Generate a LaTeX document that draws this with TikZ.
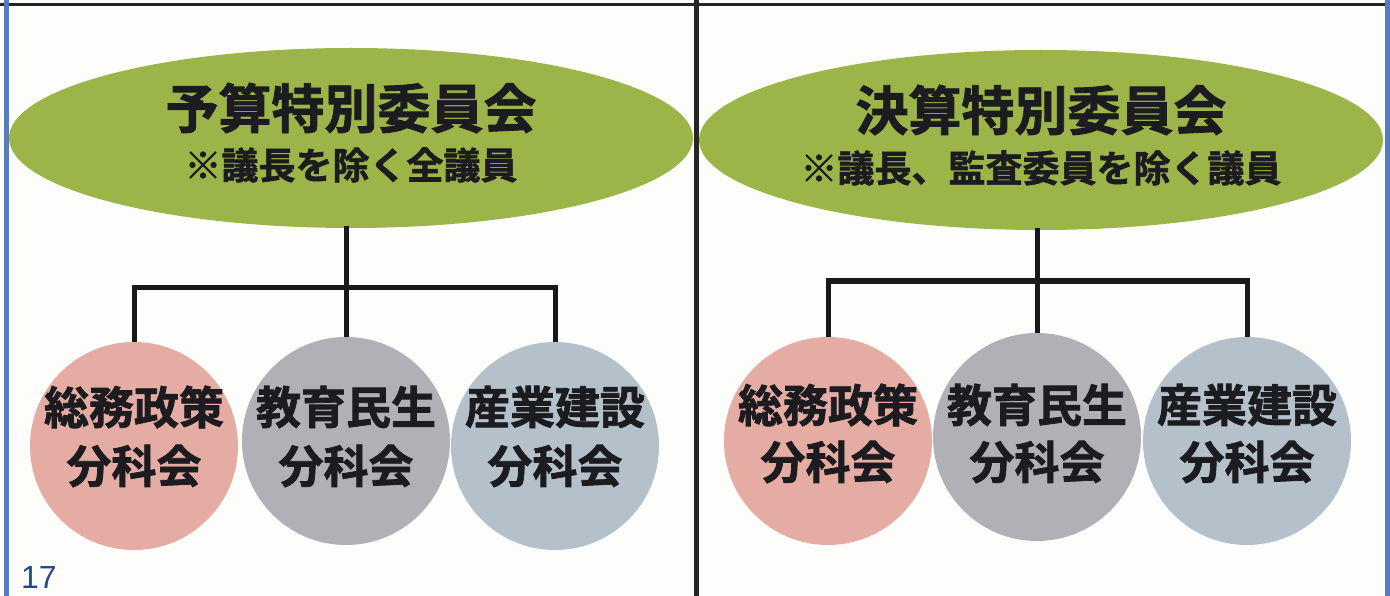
\documentclass[tikz,border=0pt]{standalone}
\usepackage{fontspec}
\setmainfont{Liberation Sans}
\newfontfamily\jp{Noto Sans CJK JP}[BoldFont={Noto Sans CJK JP Bold}, BoldFeatures={FakeBold=1.6}]
\usetikzlibrary{shapes.geometric}
\definecolor{leaf}{RGB}{155,181,72}
\definecolor{rose}{RGB}{228,172,162}
\definecolor{stone}{RGB}{176,176,182}
\definecolor{mist}{RGB}{180,193,203}
\definecolor{frameblue}{RGB}{84,124,192}
\definecolor{pagenum}{RGB}{40,72,140}
\definecolor{ink}{RGB}{28,28,32}
\definecolor{paper}{RGB}{253,253,252}
\tikzset{
  bigoval/.style={ellipse, fill=leaf, draw=none, minimum width=684pt, minimum height=180pt, inner sep=0pt},
  ball/.style={circle, draw=none, minimum size=208pt, inner sep=0pt},
  title/.style={font=\jp\bfseries\fontsize{53}{60}\selectfont, text=ink, inner sep=0pt},
  subtitle/.style={font=\jp\bfseries\fontsize{37}{42}\selectfont, text=ink, inner sep=0pt},
  label/.style={font=\jp\bfseries\fontsize{45}{50}\selectfont, text=ink, inner sep=0pt},
  conn/.style={draw=black!90, line width=5pt},
}
\begin{document}
\begin{tikzpicture}[x=1pt,y=-1pt]
\useasboundingbox (0,0) rectangle (1390,596);
\fill[paper] (0,0) rectangle (1390,596);
% frame
\draw[black!85, line width=3pt] (0,5) -- (1390,5);
\draw[black!85, line width=5pt] (696,0) -- (696,596);
\draw[frameblue, line width=5pt] (6.5,0) -- (6.5,596);
\draw[frameblue, line width=5pt] (1387.5,0) -- (1387.5,596);

% ---- left panel
\node[bigoval] (yosan) at (351,138) {};
\node[title] (yosanT) at (351,108) {予算特別委員会};
\node[subtitle] (yosanS) at (351,165) {※議長を除く全議員};

\node[ball, fill=rose]  (lA) at (134,446) {};
\node[ball, fill=stone] (lB) at (346,441) {};
\node[ball, fill=mist]  (lC) at (555,446) {};
\node[label] (lA1) at (134,407) {総務政策};
\node[label] (lA2) at (134,466) {分科会};
\node[label] (lB1) at (346,407) {教育民生};
\node[label] (lB2) at (346,466) {分科会};
\node[label] (lC1) at (555,407) {産業建設};
\node[label] (lC2) at (555,466) {分科会};

\coordinate (barL) at (346,287);
\draw[conn] (346,226) -- (lB.north);
\draw[conn] (lA.north) |- (barL) -| (lC.north);

% ---- right panel
\node[bigoval] (kessan) at (1041,140) {};
\node[title] (kessanT) at (1041,110) {決算特別委員会};
\node[subtitle] (kessanS) at (1041,168) {※議長、監査委員を除く議員};

\node[ball, fill=rose]  (rA) at (828,441) {};
\node[ball, fill=stone] (rB) at (1037,437) {};
\node[ball, fill=mist]  (rC) at (1247,441) {};
\node[label] (rA1) at (828,405) {総務政策};
\node[label] (rA2) at (828,462) {分科会};
\node[label] (rB1) at (1037,405) {教育民生};
\node[label] (rB2) at (1037,462) {分科会};
\node[label] (rC1) at (1247,405) {産業建設};
\node[label] (rC2) at (1247,462) {分科会};

\coordinate (barR) at (1037,281);
\draw[conn] (1037,228) -- (rB.north);
\draw[conn] (rA.north) |- (barR) -| (rC.north);

% page number
\node[font=\fontsize{32}{36}\selectfont, text=pagenum, anchor=base west, inner sep=0pt] (pg) at (21,588) {17};
\end{tikzpicture}
\end{document}
